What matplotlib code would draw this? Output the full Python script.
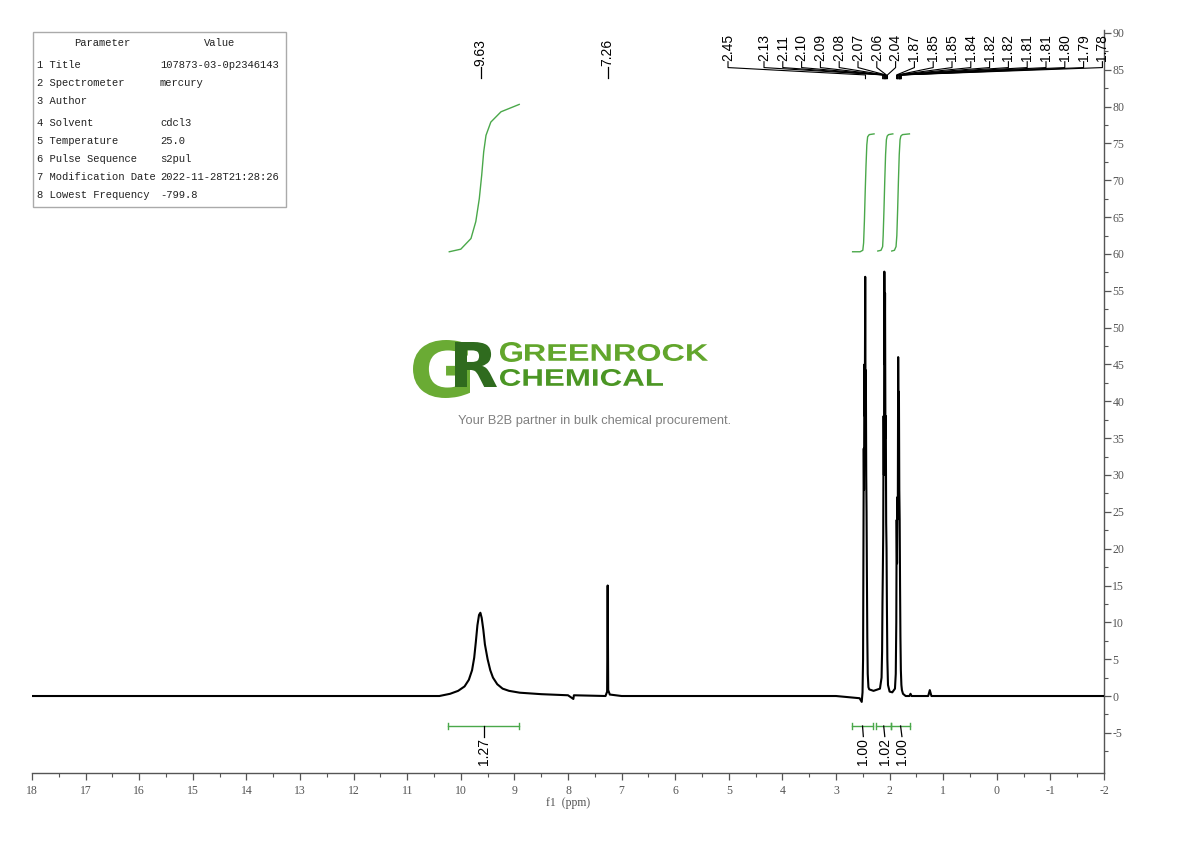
import numpy as np
import matplotlib
matplotlib.use("Agg")
import matplotlib.pyplot as plt
from matplotlib.patches import Rectangle, PathPatch
from matplotlib.textpath import TextPath
from matplotlib.font_manager import FontProperties
from matplotlib.transforms import Affine2D, IdentityTransform
from matplotlib.ticker import MultipleLocator, FixedLocator, FuncFormatter

W, H = 1190, 841

# spectrum trace (ppm, intensity)
shift_ppm = [18.0, 12.0, 10.40, 10.20, 10.05, 9.93, 9.85, 9.79, 9.75, 9.72, 9.69, 9.66,
             9.635, 9.61, 9.58, 9.55, 9.50, 9.45, 9.40, 9.32, 9.22, 9.10, 8.90, 8.50,
             8.00, 7.90, 7.89, 7.30, 7.27, 7.26, 7.25, 7.22, 7.00, 3.00, 2.56, 2.52,
             2.505, 2.495, 2.488, 2.482, 2.477, 2.470, 2.463, 2.455, 2.449, 2.443,
             2.436, 2.430, 2.424, 2.416, 2.408, 2.395, 2.38, 2.30,
             2.18, 2.15, 2.14, 2.133, 2.126, 2.119, 2.112, 2.105, 2.098, 2.091, 2.085,
             2.078, 2.071, 2.064, 2.057, 2.050, 2.042, 2.03, 2.00, 1.95,
             1.90, 1.885, 1.875, 1.868, 1.861, 1.854, 1.847, 1.840, 1.833, 1.826,
             1.819, 1.812, 1.805, 1.798, 1.790, 1.780, 1.77, 1.75, 1.70,
             1.63, 1.61, 1.59, 1.28, 1.25, 1.22, -2.0]
intensity = [0.0, 0.0, 0.0, 0.3, 0.7, 1.3, 2.2, 3.5, 5.2, 7.3, 9.6, 11.0,
             11.3, 10.6, 9.0, 7.0, 5.0, 3.5, 2.5, 1.6, 1.0, 0.7, 0.45, 0.25,
             0.1, -0.4, 0.1, 0.0, 0.6, 15.0, 0.8, 0.2, 0.0, 0.0, -0.3, -0.8,
             0.5, 5.0, 20.0, 33.6, 28.0, 45.0, 38.0, 56.9, 40.0, 44.2,
             30.0, 25.0, 17.0, 8.0, 3.0, 1.2, 0.9, 0.7,
             1.0, 2.5, 6.0, 12.6, 17.0, 22.0, 38.0, 30.0, 57.6, 45.0, 54.7,
             35.0, 38.0, 23.5, 20.0, 12.0, 5.0, 1.5, 0.6, 0.5,
             1.0, 3.0, 10.0, 23.9, 18.0, 27.0, 24.0, 46.0, 36.0, 41.3,
             28.0, 24.0, 15.0, 8.0, 3.5, 1.5, 0.8, 0.3, 0.0,
             0.0, 0.3, 0.0, 0.0, 0.8, 0.0, 0.0]

# peak picking labels
single_labels = ["9.63", "7.26"]
single_ppm = [9.63, 7.26]
multi_labels = ["2.45", "2.13", "2.11", "2.10", "2.09", "2.08", "2.07", "2.06", "2.04",
                "1.87", "1.85", "1.85", "1.84", "1.82", "1.82", "1.81", "1.81", "1.80",
                "1.79", "1.78"]
multi_ppm = [2.45, 2.13, 2.11, 2.10, 2.09, 2.08, 2.07, 2.06, 2.04,
             1.87, 1.85, 1.85, 1.84, 1.82, 1.82, 1.81, 1.81, 1.80, 1.79, 1.78]

# integral curves
int_curve_ppm = [
    [10.215, 10.0, 9.81, 9.72, 9.655, 9.61, 9.573, 9.53, 9.44, 9.25, 8.91],
    [2.69, 2.55, 2.50, 2.485, 2.47, 2.455, 2.44, 2.425, 2.41, 2.38, 2.29],
    [2.22, 2.16, 2.13, 2.12, 2.105, 2.09, 2.075, 2.06, 2.045, 2.02, 1.94],
    [1.96, 1.91, 1.88, 1.865, 1.85, 1.835, 1.82, 1.805, 1.79, 1.76, 1.63],
]
int_curve_val = [
    [60.3, 60.65, 62.1, 64.4, 67.5, 70.7, 73.85, 76.1, 77.9, 79.3, 80.3],
    [60.3, 60.3, 60.5, 61.5, 64.5, 68.5, 72.0, 74.8, 75.9, 76.2, 76.3],
    [60.4, 60.5, 61.0, 62.5, 66.0, 70.0, 73.5, 75.5, 76.0, 76.2, 76.3],
    [60.4, 60.5, 61.0, 62.5, 66.0, 70.0, 73.5, 75.5, 76.0, 76.2, 76.3],
]
int_from = [10.24, 2.70, 2.25, 1.97]
int_to = [8.91, 2.31, 1.97, 1.62]
int_text = ["1.27", "1.00", "1.02", "1.00"]
int_label_ppm = [9.575, 2.49, 2.09, 1.77]

# parameter table
param_names = ["1 Title", "2 Spectrometer", "3 Author", "4 Solvent", "5 Temperature",
               "6 Pulse Sequence", "7 Modification Date", "8 Lowest Frequency"]
param_values = ["107873-03-0p2346143", "mercury", "", "cdcl3", "25.0", "s2pul",
                "2022-11-28T21:28:26", "-799.8"]

green = "#4aa84a"
mono = "Liberation Mono"
serif = "Liberation Serif"
sans = "Liberation Sans"

fig = plt.figure(figsize=(W / 100, H / 100), dpi=100)
fig.patch.set_facecolor("white")
ax = fig.add_axes([32 / W, 1 - 773 / H, (1104 - 32) / W, (773 - 30) / H])

ax.plot(shift_ppm, intensity, color="black", lw=1.5, zorder=3)

# integral curves and bars
bar_y = -4.07
for i in range(len(int_curve_ppm)):
    ax.plot(int_curve_ppm[i], int_curve_val[i], color=green, lw=1.0)
    a, b = int_from[i], int_to[i]
    mid = (a + b) / 2
    ax.plot([a, b], [bar_y, bar_y], color=green, lw=1.0)
    ax.plot([a, a], [bar_y - 0.45, bar_y + 0.45], color=green, lw=1.0)
    ax.plot([b, b], [bar_y - 0.45, bar_y + 0.45], color=green, lw=1.0)
    ax.plot([mid, int_label_ppm[i]], [bar_y, -5.5], color="black", lw=0.9)
    ax.text(int_label_ppm[i], -5.7, int_text[i], rotation=90, ha="center", va="top",
            fontsize=10, family=sans)

# peak labels
for lab, p in zip(single_labels, single_ppm):
    ax.plot([p, p], [83.9, 85.4], color="black", lw=0.9)
    ax.text(p, 85.5, lab, rotation=90, ha="center", va="bottom", fontsize=10, family=sans)

x_first = 18 - (727 - 31) / 53.6
x_start = 18 - (763 - 31) / 53.6
step = 18.8 / 53.6
label_x = [x_first] + [x_start - k * step for k in range(len(multi_labels) - 1)]
for lab, p, lx in zip(multi_labels, multi_ppm, label_x):
    ax.plot([lx, lx, p, p], [86.1, 85.3, 84.3, 83.8], color="black", lw=0.8)
    ax.text(lx, 86.2, lab, rotation=90, ha="center", va="bottom", fontsize=10, family=sans)

ax.set_xlim(18, -2)
ax.set_ylim(-10.45, 90.4)
ax.spines["left"].set_visible(False)
ax.spines["top"].set_visible(False)
for s in ("bottom", "right"):
    ax.spines[s].set_color("#555555")
    ax.spines[s].set_linewidth(1.0)
ax.xaxis.set_major_locator(MultipleLocator(1))
ax.xaxis.set_minor_locator(MultipleLocator(0.5))
ax.yaxis.tick_right()
ax.yaxis.set_major_locator(FixedLocator(np.arange(-5, 91, 5)))
ax.yaxis.set_minor_locator(FixedLocator(np.arange(-7.5, 90, 5)))
fmt = FuncFormatter(lambda v, p: "%g" % v)
ax.xaxis.set_major_formatter(fmt)
ax.yaxis.set_major_formatter(fmt)
ax.tick_params(which="major", direction="out", length=5, width=0.9, color="#555555",
               labelsize=8.5, labelcolor="#555555")
ax.tick_params(which="minor", direction="out", length=3, width=0.8, color="#555555")
ax.tick_params(axis="y", which="both", left=False, right=True, pad=1)
for t in ax.get_xticklabels() + ax.get_yticklabels():
    t.set_family(serif)
ax.set_xlabel("f1  (ppm)", fontsize=8.5, family=serif, labelpad=0, color="#555555")

# parameter table
fig.add_artist(Rectangle((33, H - 207), 253, 175, transform=IdentityTransform(),
                         facecolor="none", edgecolor="#aaaaaa", lw=1.0))
fig.text(102 / W, 1 - 43 / H, "Parameter", ha="center", va="center", fontsize=7.6,
         family=mono, color="#222222")
fig.text(220 / W, 1 - 43 / H, "Value", ha="center", va="center", fontsize=7.6,
         family=mono, color="#222222")
row_y = [65, 83, 101, 123, 141, 159, 177, 195]
for name, val, ry in zip(param_names, param_values, row_y):
    fig.text(37 / W, 1 - ry / H, name, ha="left", va="center", fontsize=7.6,
             family=mono, color="#222222")
    fig.text(160 / W, 1 - ry / H, val, ha="left", va="center", fontsize=7.6,
             family=mono, color="#222222")


def fit_word(s, x0, y0, x1, y1, color, weight="bold", family="DejaVu Sans"):
    tp = TextPath((0, 0), s, size=100, prop=FontProperties(family=family, weight=weight))
    ext = tp.get_extents()
    tr = (Affine2D().translate(-ext.x0, -ext.y0)
          .scale((x1 - x0) / ext.width, (y1 - y0) / ext.height)
          .translate(x0, H - y1))
    fig.add_artist(PathPatch(tr.transform_path(tp), facecolor=color, edgecolor="none",
                             transform=IdentityTransform()))


# watermark logo
fit_word("G", 413, 340, 470, 398, "#6aab34")
fit_word("R", 455, 342, 497, 387, "#2f6b1e")
fit_word("G", 500, 342, 522, 362, "#62a62c", family="Liberation Sans")
fit_word("REENROCK", 525, 344, 708, 361, "#62a62c", family="Liberation Sans")
fit_word("CHEMICAL", 500, 369, 663, 386, "#4b9624", family="Liberation Sans")
fig.text(594.5 / W, 1 - 421 / H, "Your B2B partner in bulk chemical procurement.",
         ha="center", va="center", fontsize=9.3, family=sans, color="#808080")

fig.savefig("out.png", dpi=100)
